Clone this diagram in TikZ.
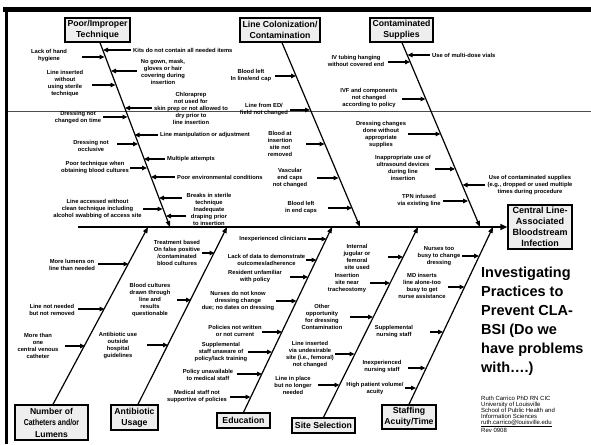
\documentclass[tikz,border=0pt]{standalone}
\usepackage{fontspec}
\usepackage{graphicx}
\setmainfont{Liberation Sans}
\usetikzlibrary{arrows.meta}
\newcommand\myarrow[4]{\coordinate (#1s) at (#2,#4); \coordinate (#1t) at (#3,#4); \draw[arr] (#1s) -- (#1t);}
\begin{document}
\begin{tikzpicture}[x=1pt,y=-1pt,
  lbl/.style={font=\fontsize{5.8}{7}\selectfont\bfseries, align=center, inner sep=0pt},
  cbox/.style={draw=black, line width=1.4pt, fill=gray!13, font=\fontsize{8.7}{11}\selectfont\bfseries, align=center, inner sep=0pt},
  arr/.style={line width=1.1pt, -{Triangle[length=5pt,width=4.6pt]}},
  bone/.style={line width=1.2pt, -{Triangle[length=6pt,width=4.5pt]}},
  spine/.style={line width=1.6pt, -{Triangle[length=7pt,width=6pt]}}]
\useasboundingbox (0,0) rectangle (591,444);
\fill[white] (0,0) rectangle (591,444);
% frame
\draw[line width=4.5pt] (3,9.5) -- (591,9.5);
\draw[line width=3pt] (6.5,7) -- (6.5,444);
\draw[gray!60!black, line width=0.8pt] (8,111) -- (591,111);

% category boxes
\node[cbox, minimum width=65pt, minimum height=24pt] (poor) at (97.5,30) {Poor/Improper\\Technique};
\node[cbox, minimum width=80pt, minimum height=24pt] (linecol) at (280,30) {Line Colonization/\\Contamination};
\node[cbox, minimum width=63pt, minimum height=24pt] (contam) at (401.5,30) {Contaminated\\Supplies};
\node[cbox, font=\fontsize{8.6}{11.5}\selectfont\bfseries, minimum width=73pt, minimum height=35pt] (cath) at (51.5,422.5) {Number of\\\scalebox{0.81}[1]{Catheters and/or}\\Lumens};
\node[cbox, minimum width=47pt, minimum height=25pt] (anti) at (134.5,417.5) {Antibiotic\\Usage};
\node[cbox, minimum width=53pt, minimum height=15pt] (edu) at (243.5,420.5) {Education};
\node[cbox, minimum width=63pt, minimum height=15pt] (site) at (323.5,425.5) {Site Selection};
\node[cbox, minimum width=54pt, minimum height=24pt] (staff) at (409,417) {Staffing\\Acuity/Time};
\node[cbox, font=\fontsize{9}{11}\selectfont\bfseries, minimum width=64pt, minimum height=44pt] (cent) at (540,227) {Central Line-\\Associated\\Bloodstream\\Infection};

% spine and bones
\coordinate (sp0) at (78,227);
\draw[spine] (sp0) -- (cent.west);
\coordinate (p1) at (170,227);
\coordinate (p2) at (360,227);
\coordinate (p3) at (480,227);
\coordinate (q1) at (148,227);
\coordinate (q2) at (227,227);
\coordinate (q3) at (332,227);
\coordinate (q4) at (418,227);
\coordinate (q5) at (493,227);
\draw[bone] ([xshift=2.5pt]poor.south) -- (p1);
\draw[bone] ([xshift=2pt]linecol.south) -- (p2);
\draw[bone] ([xshift=0.5pt]contam.south) -- (p3);
\draw[bone] ([xshift=1.5pt]cath.north) -- (q1);
\draw[bone] ([xshift=3.5pt]anti.north) -- (q2);
\draw[bone] (edu.north) -- (q3);
\draw[bone] (site.north) -- (q4);
\draw[bone] (staff.north) -- (q5);

% Poor/Improper Technique
\node[lbl] (l1) at (49,55.5) {Lack of hand\\hygiene};
\myarrow{a1}{82}{104.5}{57}
\node[lbl] (l2) at (65,84) {Line inserted\\without\\using sterile\\technique};
\myarrow{a2}{92}{115.5}{85}
\node[lbl] (l3) at (78,117.5) {Dressing not\\changed on time};
\myarrow{a3}{103}{127.5}{117}
\node[lbl] (l4) at (91,145.5) {Dressing not\\occlusive};
\myarrow{a4}{117}{138}{144}
\node[lbl] (l5) at (95,167.5) {Poor technique when\\obtaining blood cultures};
\myarrow{a5}{130}{147}{168}
\node[lbl] (l6) at (97.5,209) {Line accessed without\\clean technique including\\alcohol swabbing of access site};
\myarrow{a6}{143}{162.5}{209}
\node[lbl, anchor=west] (r1) at (133,50) {Kits do not contain all needed items};
\myarrow{b1}{131}{103}{50}
\node[lbl] (r2) at (163,71.5) {No gown, mask,\\gloves or hair\\covering during\\insertion};
\myarrow{b2}{137}{111}{71}
\node[lbl] (r3) at (191,108) {Chloraprep\\not used for\\skin prep or not allowed to\\dry prior to\\line insertion};
\myarrow{b3}{152}{125}{108}
\node[lbl, anchor=west] (r4) at (160,135) {Line manipulation or adjustment};
\myarrow{b4}{158}{134.5}{135}
\node[lbl, anchor=west] (r5) at (167,159) {Multiple attempts};
\myarrow{b5}{165}{144}{159}
\node[lbl, anchor=west] (r6) at (177,177) {Poor environmental conditions};
\myarrow{b6}{175}{151}{177}
\node[lbl] (r7) at (209,209) {Breaks in sterile\\technique\\Inadequate\\draping prior\\to insertion};
\myarrow{b7}{182}{159}{198}
\myarrow{b8}{186}{166}{216}

% Line Colonization/Contamination
\node[lbl] (c1) at (251,76) {Blood left\\In line/end cap};
\myarrow{c1a}{275}{296}{76}
\node[lbl] (c2) at (264,109.5) {Line from ED/\\field not changed};
\myarrow{c2a}{290}{310}{110}
\node[lbl] (c3) at (280,144) {Blood at\\insertion\\site not\\removed};
\myarrow{c3a}{306}{324.5}{144}
\node[lbl] (c4) at (290,178) {Vascular\\end caps\\not changed};
\myarrow{c4a}{317}{338.5}{178}
\node[lbl] (c5) at (301,207) {Blood left\\in end caps};
\myarrow{c5a}{328}{352}{208}

% Contaminated Supplies
\node[lbl, anchor=west] (s1) at (432,55) {Use of multi-dose vials};
\myarrow{s1a}{430}{407.5}{55}
\node[lbl] (s2) at (530,185) {Use of contaminated supplies\\(e.g., dropped or used multiple\\times during procedure};
\myarrow{s2a}{485}{462.5}{185}
\node[lbl] (s3) at (356,61) {IV tubing hanging\\without covered end};
\myarrow{s3a}{388}{410}{62}
\node[lbl] (s4) at (369,98.5) {IVF and components\\not changed\\according to policy};
\myarrow{s4a}{402}{425.5}{99}
\node[lbl] (s5) at (381,134) {Dressing changes\\done without\\appropriate\\supplies};
\myarrow{s5a}{408}{440.5}{134}
\node[lbl] (s6) at (403,168) {Inappropriate use of\\ultrasound devices\\during line\\insertion};
\myarrow{s6a}{435}{455}{169}
\node[lbl] (s7) at (419,201) {TPN infused\\via existing line};
\myarrow{s7a}{443}{468}{201}

% Number of Catheters and/or Lumens
\node[lbl] (k1) at (72,264.5) {More lumens on\\line than needed};
\myarrow{k1a}{98}{128.5}{264}
\node[lbl] (k2) at (52,309.5) {Line not needed\\but not removed};
\myarrow{k2a}{78}{104.5}{309}
\node[lbl] (k3) at (38,345.5) {More than\\one\\central venous\\catheter};
\myarrow{k3a}{65}{85}{346}

% Antibiotic Usage
\node[lbl] (n1) at (177,252.5) {Treatment based\\On false positive\\/contaminated\\blood cultures};
\myarrow{n1a}{202}{214.5}{253}
\node[lbl] (n2) at (150,300) {Blood cultures\\drawn through\\line and\\results\\questionable};
\myarrow{n2a}{177}{191}{300}
\node[lbl] (n3) at (118,346) {Antibiotic use\\outside\\hospital\\guidelines};
\myarrow{n3a}{147}{168}{345}

% Education
\node[lbl] (e1) at (273,239) {Inexperienced clinicians};
\myarrow{e1a}{308}{326.5}{239}
\node[lbl] (e2) at (266.5,260) {Lack of data to demonstrate\\outcomes/adherence};
\myarrow{e2a}{306}{316.5}{260}
\node[lbl] (e3) at (255,276.5) {Resident unfamiliar\\with policy};
\myarrow{e3a}{290}{308}{277}
\node[lbl] (e4) at (238,301) {Nurses do not know\\dressing change\\due; no dates on dressing};
\myarrow{e4a}{276}{296.5}{301}
\node[lbl] (e5) at (235,330.5) {Policies not written\\or not current};
\myarrow{e5a}{262}{282}{332}
\node[lbl] (e6) at (221,352) {Supplemental\\staff unaware of\\policy/lack training};
\myarrow{e6a}{248}{272}{352}
\node[lbl] (e7) at (208,374.5) {Policy unavailable\\to medical staff};
\myarrow{e7a}{237}{262}{374}
\node[lbl] (e8) at (197,396.5) {Medical staff not\\supportive of policies};
\myarrow{e8a}{230}{250.5}{397}

% Site Selection
\node[lbl] (t1) at (357,256.5) {Internal\\jugular or\\femoral\\site used};
\myarrow{t1a}{388}{403}{257}
\node[lbl] (t2) at (347,283) {Insertion\\site near\\tracheostomy};
\myarrow{t2a}{370}{390}{283}
\node[lbl] (t3) at (322,316.5) {Other\\opportunity\\for dressing\\Contamination};
\myarrow{t3a}{350}{373}{317}
\node[lbl] (t4) at (310,354.5) {Line inserted\\via undesirable\\site (i.e., femoral)\\not changed};
\myarrow{t4a}{335}{354.5}{354}
\node[lbl] (t5) at (293,385) {Line in place\\but no longer\\needed};
\myarrow{t5a}{318}{339.5}{385}

% Staffing Acuity/Time
\node[lbl] (f1) at (439,256) {Nurses too\\busy to change\\dressing};
\myarrow{f1a}{462}{479}{256}
\node[lbl] (f2) at (422,286) {MD inserts\\line alone-too\\busy to get\\nurse assistance};
\myarrow{f2a}{448}{464.5}{287}
\node[lbl] (f3) at (394,331.5) {Supplemental\\nursing staff};
\myarrow{f3a}{430}{443}{332}
\node[lbl] (f4) at (382,367) {Inexperienced\\nursing staff};
\myarrow{f4a}{408}{425.5}{368}
\node[lbl] (f5) at (375,388.5) {High patient volume/\\acuity};
\myarrow{f5a}{405}{416}{388}

% title and author
\node[anchor=north west, font=\fontsize{14.5}{19}\selectfont\bfseries, align=left, inner sep=0pt] (title) at (481,266.5) {Investigating\\Practices to\\Prevent CLA-\\BSI (Do we\\have problems\\with….)};
\node[anchor=north west, font=\fontsize{6}{6}\selectfont, align=left, inner sep=0pt] (auth) at (481,395.8) {Ruth Carrico PhD RN CIC\\University of Louisville\\School of Public Health and\\Information Sciences\\\underline{ruth.carrico@louisville.edu}\\Rev 0908};
\end{tikzpicture}
\end{document}
